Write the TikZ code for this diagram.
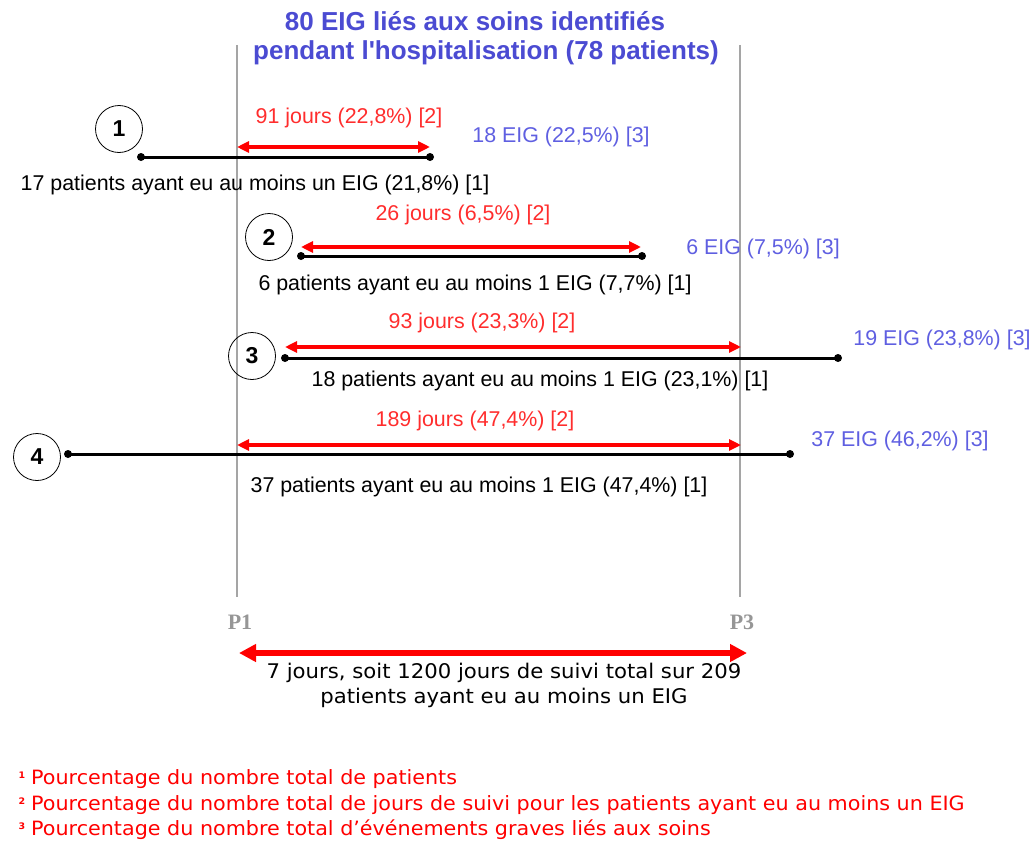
\documentclass[tikz,border=0pt]{standalone}
\usepackage{fontspec}
\setmainfont{Liberation Sans}
\newfontfamily\pixfont[FakeStretch=1.05]{DejaVu Sans}
\newfontfamily\serifbold{Liberation Serif}
\usetikzlibrary{arrows.meta}
\definecolor{arrred}{RGB}{255,0,0}
\definecolor{lblred}{RGB}{255,45,45}
\definecolor{lblblue}{RGB}{95,95,225}
\definecolor{ttlblue}{RGB}{75,75,210}
\definecolor{guide}{RGB}{165,165,165}
\definecolor{pgrey}{RGB}{150,150,150}
\begin{document}
\begin{tikzpicture}[x=1pt,y=-1pt,
  lab/.style={font=\fontsize{21.4}{25}\selectfont, inner sep=0pt},
  redlab/.style={lab, text=lblred},
  bluelab/.style={lab, text=lblblue},
  blacklab/.style={lab, text=black},
  titlelab/.style={font=\fontsize{26}{30}\selectfont\bfseries, text=ttlblue, inner sep=0pt},
  pixlab/.style={font=\pixfont\fontsize{20.2}{25}\selectfont, inner sep=0pt},
  fnlab/.style={font=\pixfont\fontsize{19.7}{25}\selectfont, inner sep=0pt, text=arrred, anchor=west},
  fnmark/.style={font=\pixfont\fontsize{9}{9}\selectfont\bfseries, text=arrred, inner sep=0pt},
  plab/.style={font=\serifbold\fontsize{22}{22}\selectfont\bfseries, text=pgrey, inner sep=0pt},
  num/.style={circle, draw=black, line width=0.8pt, minimum size=47pt, inner sep=0pt, font=\fontsize{23}{23}\selectfont\bfseries},
  enddot/.style={circle, fill=black, minimum size=8pt, inner sep=0pt},
  blackline/.style={line width=3pt, black},
  redarrow/.style={line width=3.5pt, arrred, {Triangle[length=12pt,width=11pt]}-{Triangle[length=12pt,width=11pt]}},
  bigarrow/.style={line width=5.5pt, arrred, {Triangle[length=17pt,width=17pt]}-{Triangle[length=17pt,width=17pt]}},
  guideline/.style={line width=1.5pt, guide},
]
\useasboundingbox (0,0) rectangle (1035,843);

% guide lines
\coordinate (g1t) at (237,45);
\coordinate (g1b) at (237,597);
\coordinate (g3t) at (740,45);
\coordinate (g3b) at (740,597);
\draw[guideline] (g1t) -- (g1b);
\draw[guideline] (g3t) -- (g3b);

% title
\node[titlelab] (t1) at (475,21) {80 EIG liés aux soins identifiés};
\node[titlelab] (t2) at (486,53) {pendant l\textquotesingle hospitalisation (78 patients)};

% row 1
\node[num] (c1) at (119,129) {1};
\node[enddot] (d1a) at (141,157) {};
\node[enddot] (d1b) at (430,157) {};
\draw[blackline] (d1a.center) -- (d1b.center);
\coordinate (r1a) at (237,147);
\coordinate (r1b) at (430,147);
\draw[redarrow] (r1a) -- (r1b);
\node[redlab] (l1r) at (349,118) {91 jours (22,8\%) [2]};
\node[bluelab] (l1b) at (561,137) {18 EIG (22,5\%) [3]};
\node[blacklab] (l1k) at (255,185) {17 patients ayant eu au moins un EIG (21,8\%) [1]};

% row 2
\node[num] (c2) at (269,237) {2};
\node[enddot] (d2a) at (301,256) {};
\node[enddot] (d2b) at (642,256) {};
\draw[blackline] (d2a.center) -- (d2b.center);
\coordinate (r2a) at (301,247);
\coordinate (r2b) at (641,247);
\draw[redarrow] (r2a) -- (r2b);
\node[redlab] (l2r) at (463,215) {26 jours (6,5\%) [2]};
\node[bluelab] (l2b) at (763,249) {6 EIG (7,5\%) [3]};
\node[blacklab] (l2k) at (475,285) {6 patients ayant eu au moins 1 EIG (7,7\%) [1]};

% row 3
\node[num] (c3) at (252,356) {3};
\node[enddot] (d3a) at (285,358) {};
\node[enddot] (d3b) at (838,358) {};
\draw[blackline] (d3a.center) -- (d3b.center);
\coordinate (r3a) at (285,347);
\coordinate (r3b) at (741,347);
\draw[redarrow] (r3a) -- (r3b);
\node[redlab] (l3r) at (482,323) {93 jours (23,3\%) [2]};
\node[bluelab] (l3b) at (942,340) {19 EIG (23,8\%) [3]};
\node[blacklab] (l3k) at (540,381) {18 patients ayant eu au moins 1 EIG (23,1\%) [1]};

% row 4
\node[num] (c4) at (37,457) {4};
\node[enddot] (d4a) at (68,454) {};
\node[enddot] (d4b) at (790,454) {};
\draw[blackline] (d4a.center) -- (d4b.center);
\coordinate (r4a) at (237,445);
\coordinate (r4b) at (741,445);
\draw[redarrow] (r4a) -- (r4b);
\node[redlab] (l4r) at (475,421) {189 jours (47,4\%) [2]};
\node[bluelab] (l4b) at (900,441) {37 EIG (46,2\%) [3]};
\node[blacklab] (l4k) at (479,487) {37 patients ayant eu au moins 1 EIG (47,4\%) [1]};

% P1 / P3
\node[plab] (p1) at (240,622) {P1};
\node[plab] (p3) at (742,622) {P3};
\coordinate (ba) at (239,653);
\coordinate (bb) at (747,653);
\draw[bigarrow] (ba) -- (bb);
\node[pixlab, align=center] (bt) at (504,685) {7 jours, soit 1200 jours de suivi total sur 209\\patients ayant eu au moins un EIG};

% footnotes
\node[fnmark] (m1) at (22,775) {1};
\node[fnlab] (f1) at (31,779) {Pourcentage du nombre total de patients};
\node[fnmark] (m2) at (22,801) {2};
\node[fnlab] (f2) at (31,805) {Pourcentage du nombre total de jours de suivi pour les patients ayant eu au moins un EIG};
\node[fnmark] (m3) at (22,826) {3};
\node[fnlab] (f3) at (31,830) {Pourcentage du nombre total d’événements graves liés aux soins};
\end{tikzpicture}
\end{document}
